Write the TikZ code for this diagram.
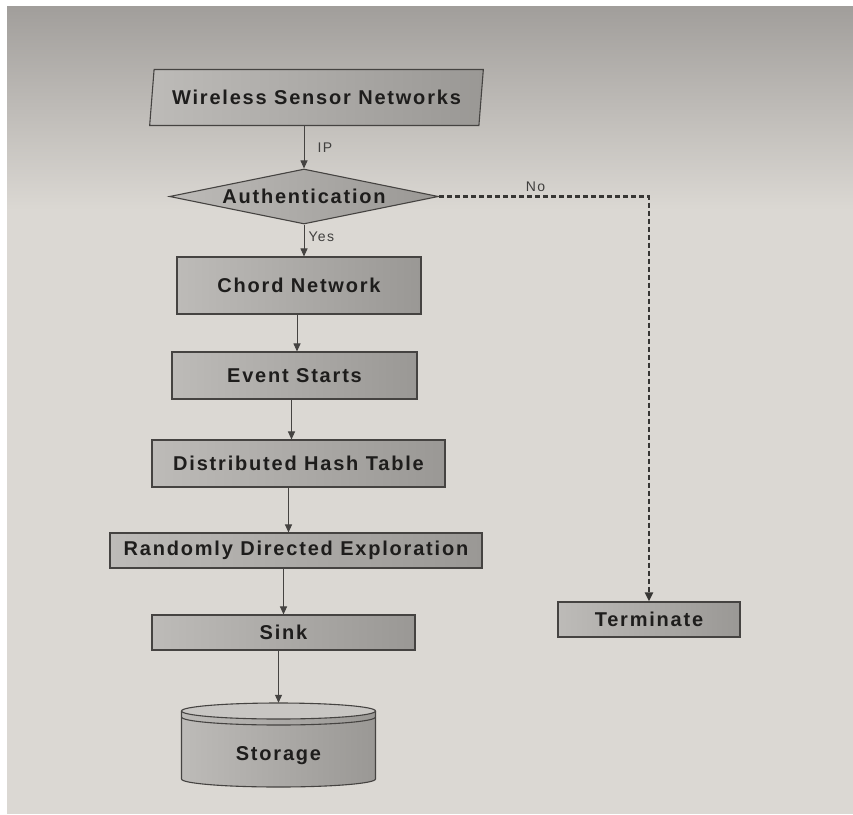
\documentclass[tikz,border=0pt]{standalone}
\usepackage{fontspec}
\setmainfont{Liberation Sans}
\newfontfamily\boxfont[LetterSpace=9]{Liberation Sans}
\newfontfamily\lblfont[LetterSpace=10]{Liberation Sans}
\usetikzlibrary{shapes.geometric,arrows.meta}
\definecolor{pagetop}{HTML}{A19E9B}
\definecolor{page}{HTML}{DBD8D3}
\definecolor{boxl}{HTML}{BDBBB8}
\definecolor{boxr}{HTML}{9A9895}
\definecolor{topc}{HTML}{C8C6C3}
\definecolor{edge}{HTML}{454341}
\definecolor{ink}{HTML}{1E1D1C}
\definecolor{lblink}{HTML}{403F3E}
\tikzset{
  box/.style={draw=edge, line width=1.1pt, left color=boxl, right color=boxr,
    text=ink, font=\boxfont\bfseries\fontsize{20}{23}\selectfont,
    inner sep=0pt, align=center},
  rectbox/.style={box, rectangle},
  arr/.style={draw=edge, line width=1pt, -{Triangle[length=8pt,width=7pt]}},
  dsh/.style={draw=edge!80!black, line width=2.2pt, dash pattern=on 5pt off 3pt,
    -{Triangle[length=9pt,width=8pt]}},
  lbl/.style={font=\lblfont\fontsize{14}{16}\selectfont, text=lblink, inner sep=0pt},
  cyl/.style={draw=edge, line width=1.1pt}
}
\begin{document}
\begin{tikzpicture}[x=1pt,y=-1pt]
\useasboundingbox (0,0) rectangle (853,814);
\fill[white] (0,0) rectangle (853,814);
\shade[top color=pagetop, bottom color=page] (7,6) rectangle (853,210);
\fill[page] (7,209) rectangle (853,814);

% nodes
\node[box, trapezium, trapezium left angle=75, trapezium right angle=105,
      trapezium stretches=true, minimum width=335pt, minimum height=56pt]
      (wsn) at (316.5,97.5) {Wireless Sensor Networks};
\node[box, diamond, aspect=4.9, minimum width=269pt, minimum height=55pt]
      (auth) at (304,196.5) {Authentication};
\node[rectbox, minimum width=244pt, minimum height=57pt] (chord) at (299,285.5) {Chord Network};
\node[rectbox, minimum width=245pt, minimum height=47pt] (event) at (294.5,375.5) {Event Starts};
\node[rectbox, minimum width=293pt, minimum height=47pt] (dht) at (298.5,463.5) {Distributed Hash Table};
\node[rectbox, minimum width=372pt, minimum height=35pt] (rde) at (296,550.5) {Randomly Directed Exploration};
\node[rectbox, minimum width=263pt, minimum height=35pt] (sink) at (283.5,632.5) {Sink};
\node[rectbox, minimum width=182pt, minimum height=35pt] (term) at (649,619.5) {Terminate};

% storage cylinder
\path[left color=boxl, right color=boxr]
  (181.5,711) -- (181.5,779) arc[start angle=180, end angle=0, x radius=97, y radius=8]
  -- (375.5,711) arc[start angle=0, end angle=-180, x radius=97, y radius=8] -- cycle;
\draw[cyl] (181.5,711) -- (181.5,779) arc[start angle=180, end angle=0, x radius=97, y radius=8]
  -- (375.5,711);
\draw[cyl, fill=topc] (278.5,711) ellipse[x radius=97, y radius=8];
\draw[cyl] (181.5,717) arc[start angle=180, end angle=0, x radius=97, y radius=8];
\node[draw=none, minimum width=194pt, minimum height=84pt, inner sep=0pt,
      label={[text=ink, font=\boxfont\bfseries\fontsize{20}{23}\selectfont, yshift=-11pt]center:Storage}]
      (storage) at (278.5,745) {};

% connectors
\draw[arr] (wsn.south -| auth.north) -- node[lbl, anchor=west, xshift=13pt]{IP} (auth.north);
\draw[arr] (auth.south) -- node[lbl, anchor=west, xshift=4pt, yshift=3.5pt]{Yes} (auth.south |- chord.north);
\draw[arr] ([xshift=-2pt]chord.south) -- ([xshift=-2pt]chord.south |- event.north);
\draw[arr] ([xshift=-3pt]event.south) -- ([xshift=-3pt]event.south |- dht.north);
\draw[arr] ([xshift=-10pt]dht.south) -- ([xshift=-10pt]dht.south |- rde.north);
\draw[arr] (sink.north |- rde.south) -- (sink.north);
\draw[arr] (storage.north |- sink.south) -- (storage.north);
\draw[dsh] (auth.east) -- node[lbl, pos=0.46, anchor=south, yshift=4pt]{No} (auth.east -| term.north) -- (term.north);
\end{tikzpicture}
\end{document}
